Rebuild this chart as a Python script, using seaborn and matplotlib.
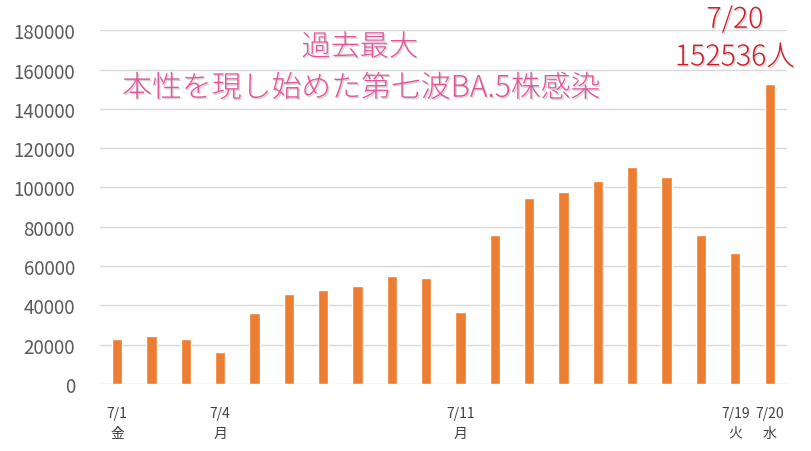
import matplotlib
matplotlib.use("Agg")
import matplotlib.pyplot as plt
import matplotlib.patheffects as pe
import seaborn as sns
import pandas as pd

# daily new cases, 7/1 - 7/20
dates = [f"7/{d}" for d in range(1, 21)]
cases = [22900, 24400, 22900, 16300, 36000, 45800, 47800, 49900, 55000, 54000,
         36600, 75900, 94700, 97600, 103300, 110400, 105400, 75900, 66700, 152536]
tick_labels = ["7/1\n金", "", "", "7/4\n月", "", "", "", "", "", "",
               "7/11\n月", "", "", "", "", "", "", "", "7/19\n火", "7/20\n水"]
yticks = list(range(0, 180001, 20000))

title_top = "過去最大"
title_main = "本性を現し始めた第七波BA.5株感染"
peak_note = "7/20\n152536人"

sns.set_theme(style="white")
plt.rcParams['font.family'] = ['Noto Sans CJK JP', 'DejaVu Sans']

df = pd.DataFrame({"date": dates, "cases": cases})

fig = plt.figure(figsize=(8.12, 4.52), dpi=100)
ax = fig.add_axes([0.123, 0.148, 0.846, 0.783])

sns.barplot(data=df, x="date", y="cases", color="#ED7D31", saturation=1,
            width=0.3, ax=ax)

ax.set_ylim(0, 180000)
ax.set_xlim(-0.5, len(dates) - 0.5)
ax.set_yticks(yticks)
ax.set_yticklabels([str(v) for v in yticks])
ax.set_xticks(range(len(dates)))
ax.set_xticklabels(tick_labels, fontsize=10, color="#404040", linespacing=1.5)
ax.tick_params(axis="y", labelsize=13.5, labelcolor="#595959", length=0, pad=18)
ax.tick_params(axis="x", length=0, pad=16)
ax.set_xlabel("")
ax.set_ylabel("")
ax.grid(axis="y", color="#d9d9d9", linewidth=1)
ax.set_axisbelow(True)
for s in ax.spines.values():
    s.set_visible(False)

shadow = [pe.withSimplePatchShadow(offset=(1, -1), shadow_rgbFace="#b8b8b8", alpha=0.6)]
fig.text(0.443, 0.893, title_top, fontsize=21, color="#E0559A", ha="center",
         va="center", fontweight="light", path_effects=shadow)
fig.text(0.445, 0.802, title_main, fontsize=21.5, color="#E0559A", ha="center",
         va="center", fontweight="light", path_effects=shadow)
fig.text(0.905, 0.913, peak_note, fontsize=20.5, color="#C8202A", ha="center",
         va="center", linespacing=1.3, fontweight="light", path_effects=shadow)

fig.savefig("out.png", dpi=100)
